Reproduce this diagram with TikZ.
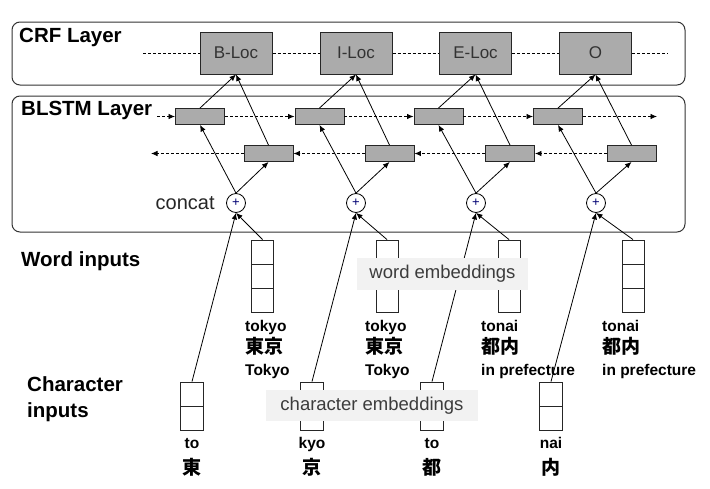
\documentclass[tikz,border=0pt]{standalone}
\usepackage{fontspec}
\setmainfont{Liberation Sans}
\newfontfamily\cjk{Noto Sans CJK JP}
\usetikzlibrary{positioning, arrows.meta}

\definecolor{cellgray}{RGB}{171,171,171}
\definecolor{tagfill}{RGB}{242,242,242}
\definecolor{tagtext}{RGB}{60,60,60}

\newcommand{\kj}[1]{{\cjk\fontsize{19}{22}\selectfont #1}}

\begin{document}
\begin{tikzpicture}[x=1pt, y=-1pt,
    % Styles
    layer/.style={draw=black!80, line width=1pt, rounded corners=8pt},
    title/.style={font=\fontsize{20.5}{26.5}\selectfont\bfseries, anchor=west, inner sep=0pt, align=left},
    crf/.style={draw=black!85, fill=cellgray, line width=1pt, minimum width=72pt, minimum height=42pt, inner sep=0pt, font=\fontsize{17}{20}\selectfont, text=black!80},
    lstm/.style={draw=black!85, fill=cellgray, line width=0.9pt, minimum width=49pt, minimum height=16pt, inner sep=0pt},
    concat/.style={draw, circle, fill=white, line width=0.8pt, minimum size=19pt, inner sep=0pt, font=\fontsize{13}{13}\selectfont, text=blue!45!black},
    wordvec/.style={draw=black!85, line width=0.9pt, minimum width=22pt, minimum height=72pt, inner sep=0pt,
        path picture={\draw[line width=0.9pt]
            ([yshift=-24pt]path picture bounding box.north west) -- ([yshift=-24pt]path picture bounding box.north east)
            ([yshift=24pt]path picture bounding box.south west) -- ([yshift=24pt]path picture bounding box.south east);}},
    charvec/.style={draw=black!85, line width=0.9pt, minimum width=23pt, minimum height=48pt, inner sep=0pt,
        path picture={\draw[line width=0.9pt]
            ([yshift=-24pt]path picture bounding box.north west) -- ([yshift=-24pt]path picture bounding box.north east);}},
    wordlab/.style={font=\fontsize{15.5}{22}\selectfont\bfseries, align=left, anchor=north west, inner sep=0pt},
    charlab/.style={font=\fontsize{15.5}{18}\selectfont\bfseries, anchor=base, inner sep=0pt},
    kanji/.style={font=\cjk\fontsize{19}{22}\selectfont\bfseries, anchor=base, inner sep=0pt},
    tag/.style={fill=tagfill, text=tagtext, inner sep=0pt, font=\fontsize{18.5}{22}\selectfont},
    arr/.style={-{Latex[length=6.5pt, width=5.5pt]}, line width=0.8pt},
    dasharr/.style={-{Latex[length=6.5pt, width=5.5pt]}, line width=0.8pt, dash pattern=on 3pt off 2pt},
    dashline/.style={line width=0.8pt, dash pattern=on 3pt off 2pt},
]
\useasboundingbox (0,0) rectangle (710,488);

% Layer frames
\draw[layer] (12,22) rectangle (685,85);
\draw[layer] (12,96) rectangle (685,232);

% Titles
\node[title] (crftitle) at (19,37) {CRF Layer};
\node[title] (blstmtitle) at (21,110) {BLSTM Layer};
\node[title] (wordtitle) at (21,261) {Word inputs};
\node[title] (chartitle) at (27,399) {Character\\inputs};

% CRF layer
\coordinate (crfstart) at (143,53);
\coordinate (crfend) at (668,53);
\node[crf] (bloc) at (236,53) {B-Loc};
\node[crf] (iloc) at (356,53) {I-Loc};
\node[crf] (eloc) at (475.5,53) {E-Loc};
\node[crf] (oout) at (595.5,53) {O};
\draw[dashline] (crfstart) -- (bloc);
\draw[dashline] (bloc) -- (iloc);
\draw[dashline] (iloc) -- (eloc);
\draw[dashline] (eloc) -- (oout);
\draw[dashline] (oout) -- (crfend);

% Forward LSTM
\coordinate (fwstart) at (157,116.5);
\coordinate (fwend) at (657,116.5);
\node[lstm] (fw1) at (200,116.5) {};
\node[lstm] (fw2) at (319.5,116.5) {};
\node[lstm] (fw3) at (438.5,116.5) {};
\node[lstm] (fw4) at (558,116.5) {};
\draw[dasharr] (fwstart) -- (fw1);
\draw[dasharr] (fw1) -- (fw2);
\draw[dasharr] (fw2) -- (fw3);
\draw[dasharr] (fw3) -- (fw4);
\draw[dasharr] (fw4) -- (fwend);

% Backward LSTM
\coordinate (bwend) at (151,153.5);
\node[lstm] (bw1) at (268.5,153.5) {};
\node[lstm] (bw2) at (389.5,153.5) {};
\node[lstm] (bw3) at (510,153.5) {};
\node[lstm] (bw4) at (631.5,153.5) {};
\draw[dasharr] (bw4) -- (bw3);
\draw[dasharr] (bw3) -- (bw2);
\draw[dasharr] (bw2) -- (bw1);
\draw[dasharr] (bw1) -- (bwend);

% Concatenation
\node[concat] (cc1) at (236,203) {+};
\node[concat] (cc2) at (356,203) {+};
\node[concat] (cc3) at (476,203) {+};
\node[concat] (cc4) at (596,203) {+};
\node[font=\fontsize{20}{24}\selectfont, text=black!85, left=8pt of cc1] (concatlab) {concat};

% Up to the CRF layer
\draw[arr] (cc1.north) -- (fw1.south);
\draw[arr] (cc1.north) -- (bw1.south);
\draw[arr] (fw1.north) -- (bloc.south);
\draw[arr] (bw1.north) -- (bloc.south);
\draw[arr] (cc2.north) -- (fw2.south);
\draw[arr] (cc2.north) -- (bw2.south);
\draw[arr] (fw2.north) -- (iloc.south);
\draw[arr] (bw2.north) -- (iloc.south);
\draw[arr] (cc3.north) -- (fw3.south);
\draw[arr] (cc3.north) -- (bw3.south);
\draw[arr] (fw3.north) -- (eloc.south);
\draw[arr] (bw3.north) -- (eloc.south);
\draw[arr] (cc4.north) -- (fw4.south);
\draw[arr] (cc4.north) -- (bw4.south);
\draw[arr] (fw4.north) -- (oout.south);
\draw[arr] (bw4.north) -- (oout.south);

% Word inputs
\node[wordvec] (w1) at (262.5,276) {};
\node[wordvec] (w2) at (387,276) {};
\node[wordvec] (w3) at (509,276) {};
\node[wordvec] (w4) at (633,276) {};
\node[wordlab] (wl1) at (245,320) {tokyo\\\kj{東京}\\Tokyo};
\node[wordlab] (wl2) at (365,320) {tokyo\\\kj{東京}\\Tokyo};
\node[wordlab] (wl3) at (481,320) {tonai\\\kj{都内}\\in prefecture};
\node[wordlab] (wl4) at (602,320) {tonai\\\kj{都内}\\in prefecture};
\draw[arr] (w1.north) -- (cc1.south);
\draw[arr] (w2.north) -- (cc2.south);
\draw[arr] (w3.north) -- (cc3.south);
\draw[arr] (w4.north) -- (cc4.south);

% Character inputs
\node[charvec] (c1) at (192,406) {};
\node[charvec] (c2) at (312,406) {};
\node[charvec] (c3) at (432,406) {};
\node[charvec] (c4) at (551,406) {};
\node[charlab] (cl1) at (192,448) {to};
\node[charlab] (cl2) at (312,448) {kyo};
\node[charlab] (cl3) at (432,448) {to};
\node[charlab] (cl4) at (551,448) {nai};
\node[kanji] (ck1) at (192,474) {東};
\node[kanji] (ck2) at (312,474) {京};
\node[kanji] (ck3) at (432,474) {都};
\node[kanji] (ck4) at (551,474) {内};
\draw[arr] (c1.north) -- (cc1.south);
\draw[arr] (c2.north) -- (cc2.south);
\draw[arr] (c3.north) -- (cc3.south);
\draw[arr] (c4.north) -- (cc4.south);

% Embedding tags
\node[tag, minimum width=171pt, minimum height=32pt] (wordemb) at (442.5,274) {word embeddings};
\node[tag, minimum width=212pt, minimum height=31pt] (charemb) at (372,405.5) {character embeddings};

\end{tikzpicture}
\end{document}
